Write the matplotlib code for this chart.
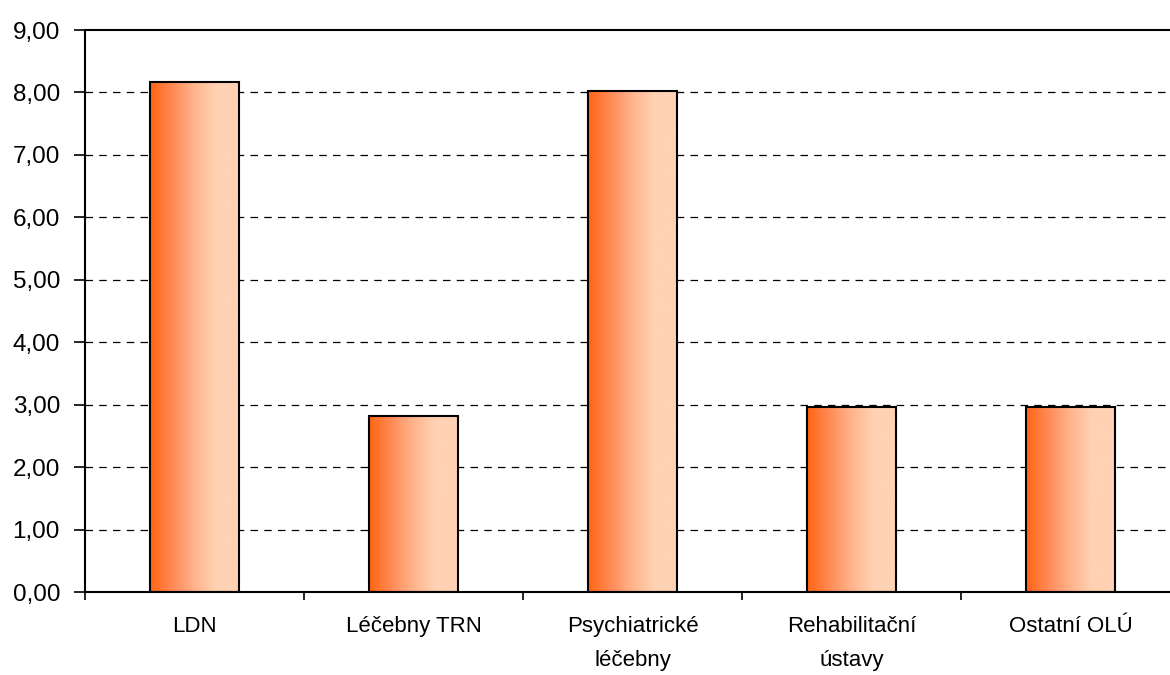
import numpy as np
import matplotlib.pyplot as plt
from matplotlib.colors import LinearSegmentedColormap
from matplotlib.ticker import FuncFormatter

plt.rcParams['font.family'] = ['Liberation Sans', 'DejaVu Sans']

kategorie = ["LDN", "Léčebny TRN", "Psychiatrické\nléčebny", "Rehabilitační\nústavy", "Ostatní OLÚ"]
hodnoty = [8.17, 2.82, 8.03, 2.97, 2.97]

W, H = 1170, 675
fig = plt.figure(figsize=(W / 100, H / 100), dpi=100)
# pravý okraj grafu leží mimo obrázek
ax = fig.add_axes([85 / W, (H - 592) / H, 1095 / W, 562 / H])

cmap = LinearSegmentedColormap.from_list("oranz", ["#ff6414", "#ff8a55", "#ffb48c", "#ffd2b4", "#ffd2b4"])
grad = np.linspace(0, 1, 256).reshape(1, -1)

x = np.arange(len(kategorie))
sirka = 0.405
for xi, h in zip(x, hodnoty):
    ax.imshow(grad, cmap=cmap, aspect="auto", extent=[xi - sirka / 2, xi + sirka / 2, 0, h], zorder=2)
ax.bar(x, hodnoty, width=sirka, facecolor="none", edgecolor="black", linewidth=1.5, zorder=3)

ax.set_xlim(-0.5, len(kategorie) - 0.5)
ax.set_ylim(0, 9)
ax.set_yticks(np.arange(0, 10, 1))
ax.yaxis.set_major_formatter(FuncFormatter(lambda v, p: f"{v:.2f}".replace(".", ",")))
for v in range(1, 9):
    ax.axhline(v, color="black", linestyle=(0, (6, 5)), linewidth=0.9, zorder=1)

ax.set_xticks(x)
ax.set_xticklabels(kategorie, fontsize=16, linespacing=1.85)
ax.set_xticks(np.arange(-0.5, len(kategorie), 1), minor=True)
ax.tick_params(axis="x", which="major", length=0, pad=17)
ax.tick_params(axis="x", which="minor", length=6, width=1.2, direction="out")
ax.tick_params(axis="y", length=8, width=1.2, direction="out", labelsize=17.5, pad=10)

for s in ["left", "bottom", "top"]:
    ax.spines[s].set_linewidth(1.5)
ax.spines["right"].set_visible(False)

fig.savefig("out.png", dpi=100)
